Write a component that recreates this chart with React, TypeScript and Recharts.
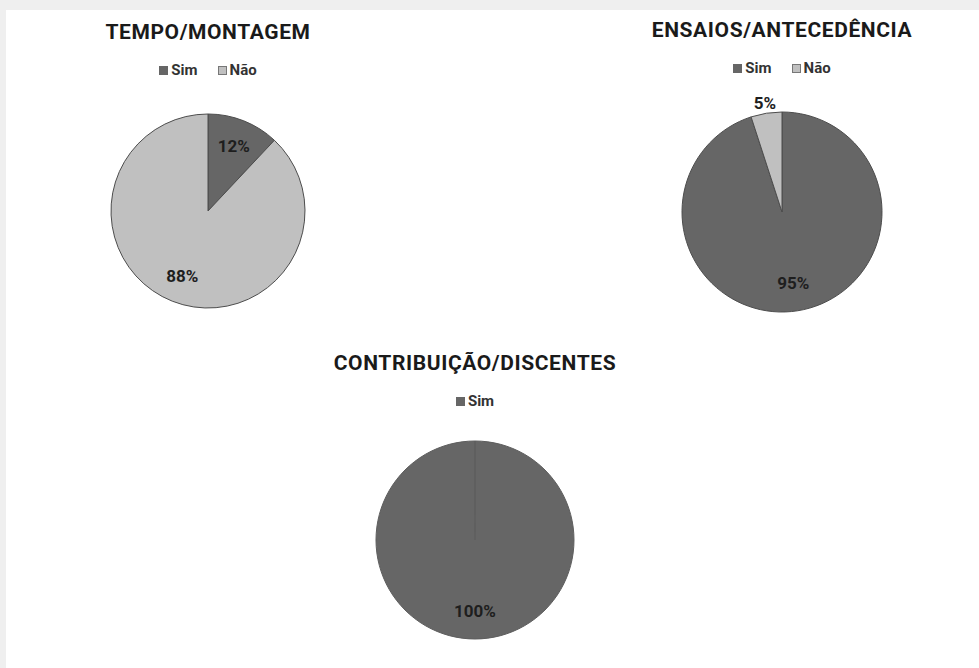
import React from 'react'
import { PieChart, Pie, Cell } from 'recharts'

// Respostas (percentual)
const answers = ['Sim', 'Não']
const tempoMontagem = [12, 88]
const ensaiosAntecedencia = [95, 5]
const contribuicaoDiscentes = [100]

const SLICE_COLORS = ['#666666', '#c0c0c0']
const STROKE = '#4d4d4d'
const RAD = Math.PI / 180

const FONT = "Roboto, 'Liberation Sans', Arial, sans-serif"

function buildRows(values: number[]) {
  return values.map((v, i) => ({ name: answers[i], value: v }))
}

function renderLabel(props: any) {
  const { cx, cy, midAngle, outerRadius, percent, value } = props
  // small slices get their label outside the pie, like Excel's best fit
  const r = percent < 0.1 ? outerRadius + 10 : outerRadius * 0.72
  const x = cx + r * Math.cos(-midAngle * RAD)
  const y = cy + r * Math.sin(-midAngle * RAD)
  return (
    <text
      x={x}
      y={y}
      textAnchor="middle"
      dominantBaseline="central"
      fill="#1e1e1e"
      fontFamily={FONT}
      fontWeight="bold"
      fontSize={17}
    >
      {`${value}%`}
    </text>
  )
}

function Heading({ title, x, y, count }: { title: string; x: number; y: number; count: number }) {
  return (
    <div
      style={{
        position: 'absolute',
        left: x - 200,
        top: y,
        width: 400,
        textAlign: 'center',
        fontFamily: FONT,
      }}
    >
      <div style={{ fontWeight: 'bold', fontSize: 21, letterSpacing: 0.6, color: '#1a1a1a', lineHeight: '24px' }}>
        {title}
      </div>
      <div
        style={{
          marginTop: 18,
          fontWeight: 'bold',
          fontSize: 15,
          color: '#333',
          display: 'flex',
          justifyContent: 'center',
          gap: 20,
          lineHeight: '16px',
        }}
      >
        {answers.slice(0, count).map((a, i) => (
          <span key={a} style={{ display: 'inline-flex', alignItems: 'center' }}>
            <span
              style={{
                display: 'inline-block',
                width: 9,
                height: 9,
                marginRight: 3,
                background: SLICE_COLORS[i],
                border: i === 0 ? 'none' : '1px solid #777',
                boxSizing: 'border-box',
              }}
            />
            {a}
          </span>
        ))}
      </div>
    </div>
  )
}

const charts = [
  { title: 'TEMPO/MONTAGEM', values: tempoMontagem, cx: 208, cy: 211, r: 97, titleY: 20 },
  { title: 'ENSAIOS/ANTECEDÊNCIA', values: ensaiosAntecedencia, cx: 782, cy: 212, r: 100, titleY: 18 },
  { title: 'CONTRIBUIÇÃO/DISCENTES', values: contribuicaoDiscentes, cx: 475, cy: 540, r: 99, titleY: 351 },
]

export default function App() {
  return (
    <div
      style={{
        position: 'absolute',
        left: 0,
        top: 0,
        width: 979,
        height: 668,
        background: '#efefef',
        overflow: 'hidden',
      }}
    >
      <div style={{ position: 'absolute', left: 6, top: 10, right: 0, bottom: 0, background: '#ffffff' }} />
      {charts.map((c) => (
        <Heading key={c.title} title={c.title} x={c.cx} y={c.titleY} count={c.values.length} />
      ))}
      <div style={{ position: 'absolute', left: 0, top: 0 }}>
        <PieChart width={979} height={668} margin={{ top: 0, right: 0, bottom: 0, left: 0 }}>
          {charts.map((c) => {
            const rows = buildRows(c.values)
            const single = rows.length === 1
            return (
              <Pie
                key={c.title}
                data={rows}
                dataKey="value"
                nameKey="name"
                cx={c.cx}
                cy={c.cy}
                outerRadius={c.r}
                startAngle={90}
                endAngle={-270}
                stroke={single ? '#5e5e5e' : STROKE}
                strokeWidth={1}
                label={renderLabel}
                labelLine={false}
                isAnimationActive={false}
              >
                {rows.map((r, i) => (
                  <Cell key={r.name} fill={SLICE_COLORS[i]} />
                ))}
              </Pie>
            )
          })}
        </PieChart>
      </div>
    </div>
  )
}
